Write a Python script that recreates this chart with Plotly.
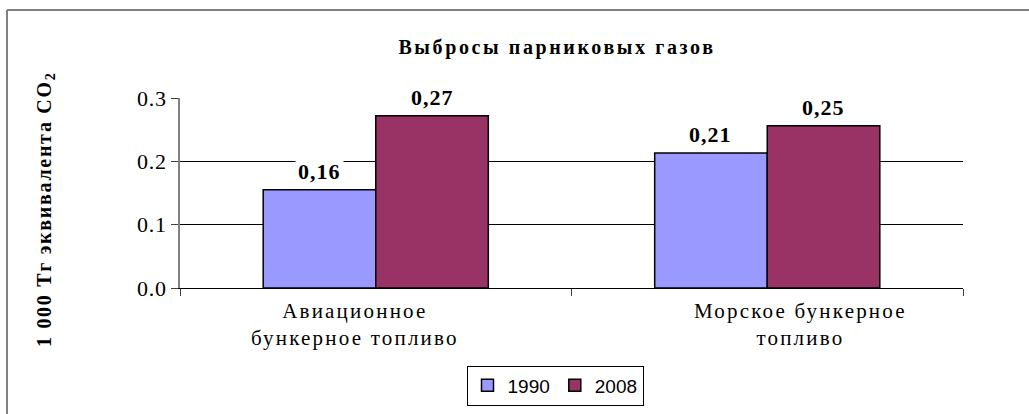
import plotly.graph_objects as go

categories = ["Авиационное<br>бункерное топливо", "Морское бункерное<br>топливо"]
series_names = ["1990", "2008"]
values_1990 = [0.155, 0.213]
values_2008 = [0.272, 0.256]
labels_1990 = ["0,16", "0,21"]
labels_2008 = ["0,27", "0,25"]
y_ticks = [0.0, 0.1, 0.2, 0.3]
y_ticktext = ["0.0", "0.1", "0.2", "0.3"]
title_text = "Выбросы парниковых газов"
y_title_text = "1 000 Тг эквивалента CO<sub>2</sub>"

W, H = 1029, 414
ML, MR, MT, MB = 180, 66, 98, 126
BARGAP = 0.425
colors = ["#9999FF", "#993366"]
SERIF = "Liberation Serif"


def ls(text, px):
    return f'<span style="letter-spacing:{px}px">{text}</span>'


fig = go.Figure()
for name, vals, col in zip(series_names, [values_1990, values_2008], colors):
    fig.add_trace(go.Bar(
        x=categories, y=vals, name=name,
        marker=dict(color=col, line=dict(color="black", width=1.5)),
        hoverinfo="skip",
    ))

plot_w = W - ML - MR
plot_h = H - MT - MB
cat_w = plot_w / len(categories)
off = cat_w * (1 - BARGAP) / 4

annotations = []
for vals, labs, sgn in [(values_1990, labels_1990, -1), (values_2008, labels_2008, 1)]:
    for c, v, t in zip(categories, vals, labs):
        annotations.append(dict(
            x=c, y=v, xref="x", yref="y", text=ls("<b>" + t + "</b>", 1), showarrow=False,
            xshift=sgn * off, yshift=3, yanchor="bottom",
            font=dict(family=SERIF, size=22, color="black"),
            bgcolor="white", borderpad=2,
        ))

cat_shift = [-21, 33]
for c, s in zip(categories, cat_shift):
    lines = c.split("<br>")
    annotations.append(dict(
        x=c, y=0, xref="x", yref="y", text="<br>".join(ls(l, 2.2) for l in lines),
        showarrow=False, xshift=s, yshift=-9, yanchor="top",
        font=dict(family=SERIF, size=21, color="black"),
    ))

# y-axis title (offset below the axis centre as in the original)
annotations.append(dict(
    x=(45 - ML) / plot_w, y=(H - MB - 210) / plot_h, xref="paper", yref="paper",
    text=ls("<b>" + y_title_text + "</b>", 1.7), textangle=-90, showarrow=False,
    xanchor="center", yanchor="middle",
    font=dict(family=SERIF, size=20, color="black"),
))

fig.update_layout(
    width=W, height=H,
    margin=dict(l=ML, r=MR, t=MT, b=MB, autoexpand=False),
    paper_bgcolor="white", plot_bgcolor="white",
    barmode="group", bargap=BARGAP, bargroupgap=0,
    title=dict(
        text=ls("<b>" + title_text + "</b>", 2.6),
        x=557 / W, y=1 - 47 / H, xref="container", yref="container",
        xanchor="center", yanchor="middle",
        font=dict(family=SERIF, size=20, color="black"),
    ),
    showlegend=True,
    legend=dict(
        orientation="h", x=(555 - ML) / plot_w, y=(H - MB - 385.5) / plot_h,
        xanchor="center", yanchor="middle",
        font=dict(family="Liberation Sans", size=19, color="black"),
        bordercolor="black", borderwidth=1, bgcolor="white",
        itemwidth=30, tracegroupgap=0,
    ),
    xaxis=dict(
        showticklabels=False, tickson="boundaries", ticks="outside", ticklen=7,
        tickcolor="#404040", showline=True, linecolor="black", linewidth=1,
        showgrid=False, fixedrange=True,
    ),
    yaxis=dict(
        range=[0, 0.3], tickvals=y_ticks, ticktext=[ls(t, 0.8) for t in y_ticktext],
        ticks="outside", ticklen=7, tickcolor="#404040",
        showline=True, linecolor="#808080", linewidth=1.5,
        showgrid=True, gridcolor="black", gridwidth=1,
        tickfont=dict(family=SERIF, size=22, color="black"),
        zeroline=False, fixedrange=True,
    ),
    annotations=annotations,
    shapes=[
        dict(type="line", xref="paper", yref="paper",
             x0=(7 - ML) / plot_w, x1=(W + 5 - ML) / plot_w,
             y0=(H - MB - 10) / plot_h, y1=(H - MB - 10) / plot_h,
             line=dict(color="#808080", width=2)),
        dict(type="line", xref="paper", yref="paper",
             x0=(7 - ML) / plot_w, x1=(7 - ML) / plot_w,
             y0=(H - MB - 10) / plot_h, y1=(H - MB - H - 5) / plot_h,
             line=dict(color="#808080", width=2)),
    ],
)

fig.write_html("out.html", config={"displayModeBar": False},
               post_script="document.body.style.margin='0';")
